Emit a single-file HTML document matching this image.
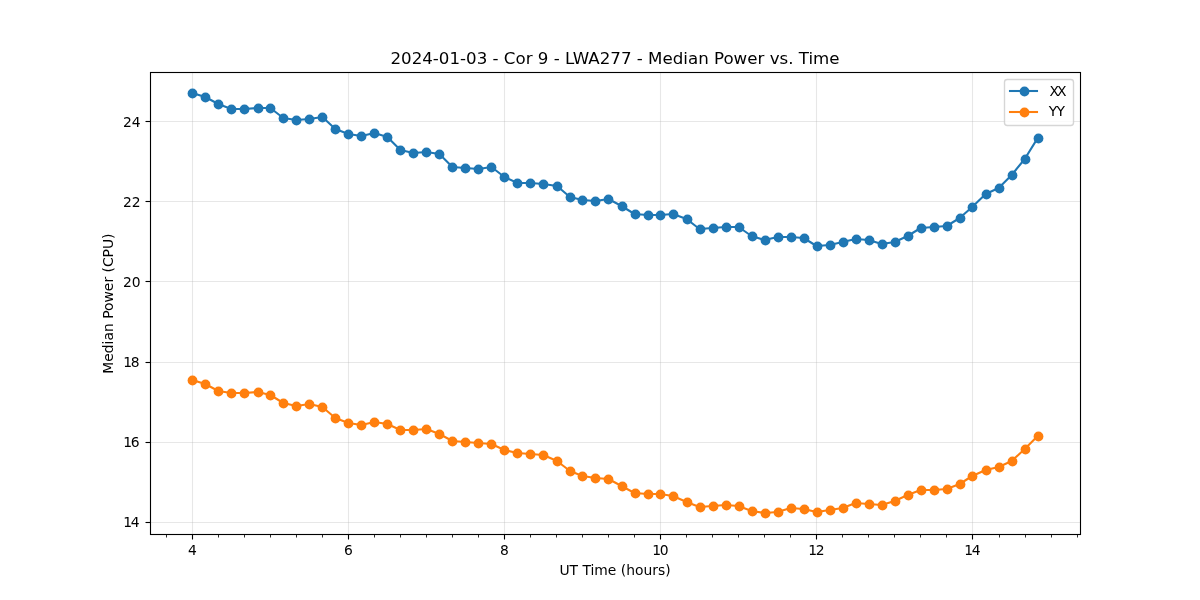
<!DOCTYPE html>
<html lang="en"><head><meta charset="utf-8"><title>Median Power vs. Time</title>
<style>html,body{margin:0;padding:0;background:#fff;}body{width:1200px;height:600px;overflow:hidden;}svg text{font-family:"DejaVu Sans","Liberation Sans",sans-serif;}</style></head>
<body>
<svg width="1200" height="600" viewBox="0 0 1200 600" style="display:block">
<rect width="1200" height="600" fill="#ffffff"/>
<g stroke="#b0b0b0" stroke-opacity="0.3" stroke-width="1.11">
<line x1="192.5" y1="72.5" x2="192.5" y2="534.5"/>
<line x1="348.5" y1="72.5" x2="348.5" y2="534.5"/>
<line x1="504.5" y1="72.5" x2="504.5" y2="534.5"/>
<line x1="660.5" y1="72.5" x2="660.5" y2="534.5"/>
<line x1="816.5" y1="72.5" x2="816.5" y2="534.5"/>
<line x1="972.5" y1="72.5" x2="972.5" y2="534.5"/>
<line x1="150.5" y1="121.5" x2="1080.5" y2="121.5"/>
<line x1="150.5" y1="201.5" x2="1080.5" y2="201.5"/>
<line x1="150.5" y1="281.5" x2="1080.5" y2="281.5"/>
<line x1="150.5" y1="362.5" x2="1080.5" y2="362.5"/>
<line x1="150.5" y1="442.5" x2="1080.5" y2="442.5"/>
<line x1="150.5" y1="522.5" x2="1080.5" y2="522.5"/>
</g>
<g stroke="#000" stroke-width="1.11">
<line x1="192.5" y1="534.5" x2="192.5" y2="539.50"/>
<line x1="348.5" y1="534.5" x2="348.5" y2="539.50"/>
<line x1="504.5" y1="534.5" x2="504.5" y2="539.50"/>
<line x1="660.5" y1="534.5" x2="660.5" y2="539.50"/>
<line x1="816.5" y1="534.5" x2="816.5" y2="539.50"/>
<line x1="972.5" y1="534.5" x2="972.5" y2="539.50"/>
<line x1="150.5" y1="121.5" x2="145.50" y2="121.5"/>
<line x1="150.5" y1="201.5" x2="145.50" y2="201.5"/>
<line x1="150.5" y1="281.5" x2="145.50" y2="281.5"/>
<line x1="150.5" y1="362.5" x2="145.50" y2="362.5"/>
<line x1="150.5" y1="442.5" x2="145.50" y2="442.5"/>
<line x1="150.5" y1="522.5" x2="145.50" y2="522.5"/>
</g>
<g stroke="#000" stroke-width="0.83">
<line x1="166.5" y1="534.5" x2="166.5" y2="537.50"/>
<line x1="218.5" y1="534.5" x2="218.5" y2="537.50"/>
<line x1="244.5" y1="534.5" x2="244.5" y2="537.50"/>
<line x1="270.5" y1="534.5" x2="270.5" y2="537.50"/>
<line x1="296.5" y1="534.5" x2="296.5" y2="537.50"/>
<line x1="322.5" y1="534.5" x2="322.5" y2="537.50"/>
<line x1="374.5" y1="534.5" x2="374.5" y2="537.50"/>
<line x1="400.5" y1="534.5" x2="400.5" y2="537.50"/>
<line x1="426.5" y1="534.5" x2="426.5" y2="537.50"/>
<line x1="452.5" y1="534.5" x2="452.5" y2="537.50"/>
<line x1="478.5" y1="534.5" x2="478.5" y2="537.50"/>
<line x1="530.5" y1="534.5" x2="530.5" y2="537.50"/>
<line x1="556.5" y1="534.5" x2="556.5" y2="537.50"/>
<line x1="582.5" y1="534.5" x2="582.5" y2="537.50"/>
<line x1="608.5" y1="534.5" x2="608.5" y2="537.50"/>
<line x1="634.5" y1="534.5" x2="634.5" y2="537.50"/>
<line x1="686.5" y1="534.5" x2="686.5" y2="537.50"/>
<line x1="712.5" y1="534.5" x2="712.5" y2="537.50"/>
<line x1="738.5" y1="534.5" x2="738.5" y2="537.50"/>
<line x1="764.5" y1="534.5" x2="764.5" y2="537.50"/>
<line x1="790.5" y1="534.5" x2="790.5" y2="537.50"/>
<line x1="842.5" y1="534.5" x2="842.5" y2="537.50"/>
<line x1="868.5" y1="534.5" x2="868.5" y2="537.50"/>
<line x1="894.5" y1="534.5" x2="894.5" y2="537.50"/>
<line x1="920.5" y1="534.5" x2="920.5" y2="537.50"/>
<line x1="946.5" y1="534.5" x2="946.5" y2="537.50"/>
<line x1="999.5" y1="534.5" x2="999.5" y2="537.50"/>
<line x1="1025.5" y1="534.5" x2="1025.5" y2="537.50"/>
<line x1="1051.5" y1="534.5" x2="1051.5" y2="537.50"/>
<line x1="1077.5" y1="534.5" x2="1077.5" y2="537.50"/>
</g>
<polyline points="192.27,93.00 205.28,97.00 218.28,104.00 231.29,109.00 244.30,109.00 257.80,108.00 270.31,108.00 283.32,118.00 296.33,120.00 309.33,119.00 322.34,117.00 335.35,129.00 348.35,134.00 361.36,136.00 374.37,133.00 387.37,137.00 400.38,150.00 413.39,153.00 426.40,152.00 439.40,154.00 452.41,167.00 465.42,168.00 478.42,169.00 491.43,167.00 504.44,177.00 517.44,183.00 530.45,183.00 543.46,184.00 556.97,186.00 569.97,197.00 582.48,200.00 595.49,201.00 608.49,199.00 621.50,206.00 634.51,214.00 647.51,215.00 660.02,215.00 673.03,214.00 686.54,219.00 699.54,229.00 712.55,228.00 725.56,227.00 738.56,227.00 751.57,236.00 764.58,240.00 777.58,237.00 790.59,237.00 803.60,238.00 816.61,246.00 829.61,245.00 842.62,242.00 855.63,239.00 868.63,240.00 881.64,244.00 894.65,242.00 907.65,236.00 920.66,228.00 933.67,227.00 946.68,226.00 959.68,218.00 972.19,207.00 985.70,194.00 998.70,188.00 1011.71,175.00 1024.72,159.00 1037.72,138.00" fill="none" stroke="#1f77b4" stroke-width="2.08" stroke-linejoin="round" stroke-linecap="square"/>
<g fill="#1f77b4"><circle cx="192.5" cy="93.5" r="4.9"/><circle cx="205.5" cy="97.5" r="4.9"/><circle cx="218.5" cy="104.5" r="4.9"/><circle cx="231.5" cy="109.5" r="4.9"/><circle cx="244.5" cy="109.5" r="4.9"/><circle cx="258.5" cy="108.5" r="4.9"/><circle cx="270.5" cy="108.5" r="4.9"/><circle cx="283.5" cy="118.5" r="4.9"/><circle cx="296.5" cy="120.5" r="4.9"/><circle cx="309.5" cy="119.5" r="4.9"/><circle cx="322.5" cy="117.5" r="4.9"/><circle cx="335.5" cy="129.5" r="4.9"/><circle cx="348.5" cy="134.5" r="4.9"/><circle cx="361.5" cy="136.5" r="4.9"/><circle cx="374.5" cy="133.5" r="4.9"/><circle cx="387.5" cy="137.5" r="4.9"/><circle cx="400.5" cy="150.5" r="4.9"/><circle cx="413.5" cy="153.5" r="4.9"/><circle cx="426.5" cy="152.5" r="4.9"/><circle cx="439.5" cy="154.5" r="4.9"/><circle cx="452.5" cy="167.5" r="4.9"/><circle cx="465.5" cy="168.5" r="4.9"/><circle cx="478.5" cy="169.5" r="4.9"/><circle cx="491.5" cy="167.5" r="4.9"/><circle cx="504.5" cy="177.5" r="4.9"/><circle cx="517.5" cy="183.5" r="4.9"/><circle cx="530.5" cy="183.5" r="4.9"/><circle cx="543.5" cy="184.5" r="4.9"/><circle cx="557.5" cy="186.5" r="4.9"/><circle cx="570.5" cy="197.5" r="4.9"/><circle cx="582.5" cy="200.5" r="4.9"/><circle cx="595.5" cy="201.5" r="4.9"/><circle cx="608.5" cy="199.5" r="4.9"/><circle cx="622.5" cy="206.5" r="4.9"/><circle cx="635.5" cy="214.5" r="4.9"/><circle cx="648.5" cy="215.5" r="4.9"/><circle cx="660.5" cy="215.5" r="4.9"/><circle cx="673.5" cy="214.5" r="4.9"/><circle cx="687.5" cy="219.5" r="4.9"/><circle cx="700.5" cy="229.5" r="4.9"/><circle cx="713.5" cy="228.5" r="4.9"/><circle cx="726.5" cy="227.5" r="4.9"/><circle cx="739.5" cy="227.5" r="4.9"/><circle cx="752.5" cy="236.5" r="4.9"/><circle cx="765.5" cy="240.5" r="4.9"/><circle cx="778.5" cy="237.5" r="4.9"/><circle cx="791.5" cy="237.5" r="4.9"/><circle cx="804.5" cy="238.5" r="4.9"/><circle cx="817.5" cy="246.5" r="4.9"/><circle cx="830.5" cy="245.5" r="4.9"/><circle cx="843.5" cy="242.5" r="4.9"/><circle cx="856.5" cy="239.5" r="4.9"/><circle cx="869.5" cy="240.5" r="4.9"/><circle cx="882.5" cy="244.5" r="4.9"/><circle cx="895.5" cy="242.5" r="4.9"/><circle cx="908.5" cy="236.5" r="4.9"/><circle cx="921.5" cy="228.5" r="4.9"/><circle cx="934.5" cy="227.5" r="4.9"/><circle cx="947.5" cy="226.5" r="4.9"/><circle cx="960.5" cy="218.5" r="4.9"/><circle cx="972.5" cy="207.5" r="4.9"/><circle cx="986.5" cy="194.5" r="4.9"/><circle cx="999.5" cy="188.5" r="4.9"/><circle cx="1012.5" cy="175.5" r="4.9"/><circle cx="1025.5" cy="159.5" r="4.9"/><circle cx="1038.5" cy="138.5" r="4.9"/></g>

<polyline points="192.27,380.00 205.28,384.00 218.28,391.00 231.29,393.00 244.30,393.00 257.80,392.00 270.31,395.00 283.32,403.00 296.33,406.00 309.33,404.00 322.34,407.00 335.35,418.00 348.35,423.00 361.36,425.00 374.37,422.00 387.37,424.00 400.38,430.00 413.39,430.00 426.40,429.00 439.40,434.00 452.41,441.00 465.42,442.00 478.42,443.00 491.43,444.00 504.44,450.00 517.44,453.00 530.45,454.00 543.46,455.00 556.97,461.00 569.97,471.00 582.48,476.00 595.49,478.00 608.49,479.00 621.50,486.00 634.51,493.00 647.51,494.00 660.02,494.00 673.03,496.00 686.54,502.00 699.54,507.00 712.55,506.00 725.56,505.00 738.56,506.00 751.57,511.00 764.58,513.00 777.58,512.00 790.59,508.00 803.60,509.00 816.61,512.00 829.61,510.00 842.62,508.00 855.63,503.00 868.63,504.00 881.64,505.00 894.65,501.00 907.65,495.00 920.66,490.00 933.67,490.00 946.68,489.00 959.68,484.00 972.19,476.00 985.70,470.00 998.70,467.00 1011.71,461.00 1024.72,449.00 1037.72,436.00" fill="none" stroke="#ff7f0e" stroke-width="2.08" stroke-linejoin="round" stroke-linecap="square"/>
<g fill="#ff7f0e"><circle cx="192.5" cy="380.5" r="4.9"/><circle cx="205.5" cy="384.5" r="4.9"/><circle cx="218.5" cy="391.5" r="4.9"/><circle cx="231.5" cy="393.5" r="4.9"/><circle cx="244.5" cy="393.5" r="4.9"/><circle cx="258.5" cy="392.5" r="4.9"/><circle cx="270.5" cy="395.5" r="4.9"/><circle cx="283.5" cy="403.5" r="4.9"/><circle cx="296.5" cy="406.5" r="4.9"/><circle cx="309.5" cy="404.5" r="4.9"/><circle cx="322.5" cy="407.5" r="4.9"/><circle cx="335.5" cy="418.5" r="4.9"/><circle cx="348.5" cy="423.5" r="4.9"/><circle cx="361.5" cy="425.5" r="4.9"/><circle cx="374.5" cy="422.5" r="4.9"/><circle cx="387.5" cy="424.5" r="4.9"/><circle cx="400.5" cy="430.5" r="4.9"/><circle cx="413.5" cy="430.5" r="4.9"/><circle cx="426.5" cy="429.5" r="4.9"/><circle cx="439.5" cy="434.5" r="4.9"/><circle cx="452.5" cy="441.5" r="4.9"/><circle cx="465.5" cy="442.5" r="4.9"/><circle cx="478.5" cy="443.5" r="4.9"/><circle cx="491.5" cy="444.5" r="4.9"/><circle cx="504.5" cy="450.5" r="4.9"/><circle cx="517.5" cy="453.5" r="4.9"/><circle cx="530.5" cy="454.5" r="4.9"/><circle cx="543.5" cy="455.5" r="4.9"/><circle cx="557.5" cy="461.5" r="4.9"/><circle cx="570.5" cy="471.5" r="4.9"/><circle cx="582.5" cy="476.5" r="4.9"/><circle cx="595.5" cy="478.5" r="4.9"/><circle cx="608.5" cy="479.5" r="4.9"/><circle cx="622.5" cy="486.5" r="4.9"/><circle cx="635.5" cy="493.5" r="4.9"/><circle cx="648.5" cy="494.5" r="4.9"/><circle cx="660.5" cy="494.5" r="4.9"/><circle cx="673.5" cy="496.5" r="4.9"/><circle cx="687.5" cy="502.5" r="4.9"/><circle cx="700.5" cy="507.5" r="4.9"/><circle cx="713.5" cy="506.5" r="4.9"/><circle cx="726.5" cy="505.5" r="4.9"/><circle cx="739.5" cy="506.5" r="4.9"/><circle cx="752.5" cy="511.5" r="4.9"/><circle cx="765.5" cy="513.5" r="4.9"/><circle cx="778.5" cy="512.5" r="4.9"/><circle cx="791.5" cy="508.5" r="4.9"/><circle cx="804.5" cy="509.5" r="4.9"/><circle cx="817.5" cy="512.5" r="4.9"/><circle cx="830.5" cy="510.5" r="4.9"/><circle cx="843.5" cy="508.5" r="4.9"/><circle cx="856.5" cy="503.5" r="4.9"/><circle cx="869.5" cy="504.5" r="4.9"/><circle cx="882.5" cy="505.5" r="4.9"/><circle cx="895.5" cy="501.5" r="4.9"/><circle cx="908.5" cy="495.5" r="4.9"/><circle cx="921.5" cy="490.5" r="4.9"/><circle cx="934.5" cy="490.5" r="4.9"/><circle cx="947.5" cy="489.5" r="4.9"/><circle cx="960.5" cy="484.5" r="4.9"/><circle cx="972.5" cy="476.5" r="4.9"/><circle cx="986.5" cy="470.5" r="4.9"/><circle cx="999.5" cy="467.5" r="4.9"/><circle cx="1012.5" cy="461.5" r="4.9"/><circle cx="1025.5" cy="449.5" r="4.9"/><circle cx="1038.5" cy="436.5" r="4.9"/></g>

<rect x="150.5" y="72.5" width="930.0" height="462.0" fill="none" stroke="#000" stroke-width="1.11" stroke-linejoin="miter"/>
<g font-size="13.89px" fill="#000">
<text x="188.09" y="555.1">4</text>
<text x="344.09" y="555.1">6</text>
<text x="500.09" y="555.1">8</text>
<text x="652.27 659.78" y="555.1">10</text>
<text x="808.27 815.78" y="555.1">12</text>
<text x="964.27 971.78" y="555.1">14</text>
<text x="123.0 131.8" y="126.8">24</text>
<text x="123.0 131.8" y="206.8">22</text>
<text x="123.0 131.8" y="286.8">20</text>
<text x="123.34 130.86" y="366.8">18</text>
<text x="123.34 130.86" y="446.8">16</text>
<text x="123.34 130.86" y="526.8">14</text>
<text x="615" y="574.9" text-anchor="middle">UT Time (hours)</text>
<text transform="translate(113.3,303.6) rotate(-90)" text-anchor="middle">Median Power (CPU)</text>
</g>
<text x="615" y="63.7" font-size="16.67px" text-anchor="middle" fill="#000">2024-01-03 - Cor 9 - LWA277 - Median Power vs. Time</text>
<rect x="1004.5" y="79.5" width="69" height="46" rx="2.8" ry="2.8" fill="#fff" fill-opacity="0.8" stroke="#cccccc" stroke-opacity="0.8" stroke-width="1.39"/>
<line x1="1010" y1="91" x2="1037" y2="91" stroke="#1f77b4" stroke-width="2.08" stroke-linecap="square"/>
<circle cx="1024.5" cy="91.5" r="4.9" fill="#1f77b4"/>
<text x="1049.5 1057.1" y="95.9" font-size="13.89px" fill="#000">XX</text>
<line x1="1010" y1="112" x2="1037" y2="112" stroke="#ff7f0e" stroke-width="2.08" stroke-linecap="square"/>
<circle cx="1024.5" cy="112.5" r="4.9" fill="#ff7f0e"/>
<text x="1048.8 1056.4" y="115.9" font-size="13.89px" fill="#000">YY</text>
</svg>
</body></html>
